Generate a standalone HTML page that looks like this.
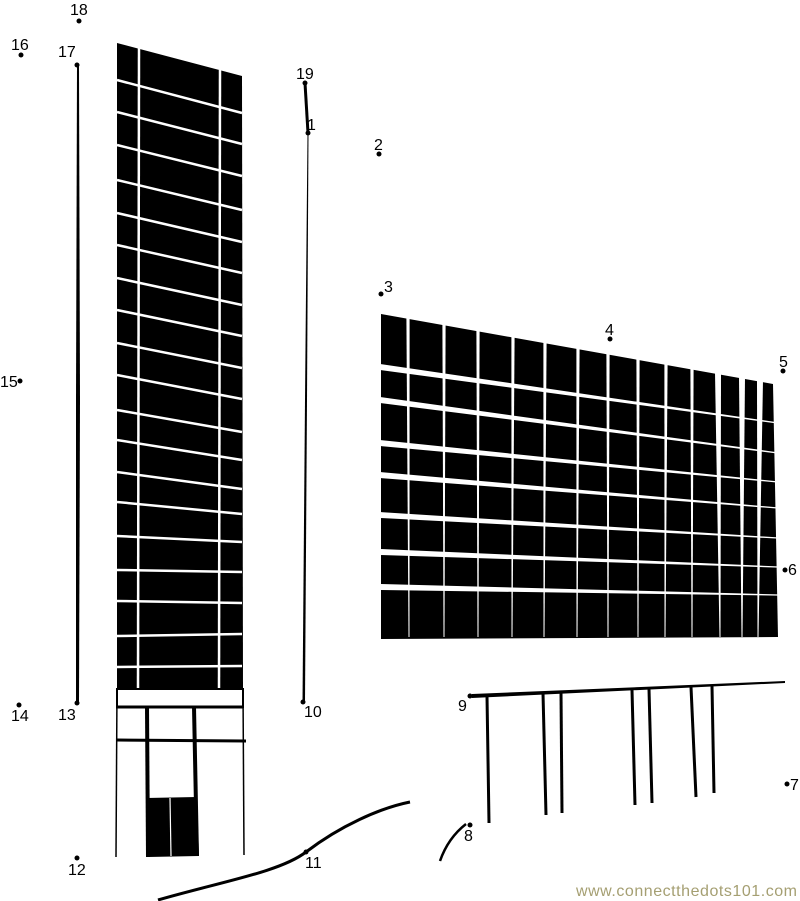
<!DOCTYPE html>
<html><head><meta charset="utf-8"><style>
html,body{margin:0;padding:0;background:#fff}
svg{display:block}
text{font-family:"Liberation Sans",sans-serif;font-size:16px;fill:#000}
</style></head><body>
<svg width="800" height="901" viewBox="0 0 800 901" xmlns="http://www.w3.org/2000/svg">
<polygon points="117,43 242,76 243,689 117,689" fill="#000"/>
<line x1="139" y1="48" x2="138" y2="688" stroke="#fff" stroke-width="2.5"/>
<line x1="220" y1="70" x2="219" y2="688" stroke="#fff" stroke-width="2.5"/>
<g stroke="#fff" stroke-width="2.5" id="tl"></g>
<rect x="117" y="689" width="126" height="18" fill="#fff" stroke="#000" stroke-width="2"/>
<line x1="116" y1="707" x2="243" y2="707" stroke="#000" stroke-width="3"/>
<line x1="117" y1="689" x2="116" y2="857" stroke="#000" stroke-width="1.5"/>
<line x1="243" y1="689" x2="244" y2="855" stroke="#000" stroke-width="1.5"/>
<line x1="117" y1="740" x2="246" y2="741" stroke="#000" stroke-width="3"/>
<line x1="147" y1="707" x2="148" y2="857" stroke="#000" stroke-width="4"/>
<line x1="194" y1="707" x2="197" y2="856" stroke="#000" stroke-width="4"/>
<polygon points="146,798 197,797 199,856 148,857" fill="#000"/>
<line x1="170" y1="798" x2="171" y2="856" stroke="#fff" stroke-width="1.2"/>
<polygon points="77,66 79,66 80,400 79,703 76,703 76,400" fill="#000"/>
<line x1="305" y1="83" x2="308" y2="133" stroke="#000" stroke-width="3"/>
<polygon points="307.5,133 308.5,133 307,400 305,702 302.5,702 305,400" fill="#000"/>
<polygon points="381,314 773,384 778,637 381,639" fill="#000"/>
<g id="rb"></g>
<polygon points="472,694 785,681 785,683 472,698" fill="#000"/>
<g stroke="#000" stroke-width="3">
<line x1="487" y1="696" x2="489" y2="823"/>
<line x1="543" y1="693" x2="546" y2="815"/>
<line x1="561" y1="692" x2="562" y2="813"/>
<line x1="632" y1="690" x2="635" y2="805"/>
<line x1="649" y1="689" x2="652" y2="803"/>
<line x1="691" y1="687" x2="696" y2="797"/>
<line x1="712" y1="686" x2="714" y2="793"/>
</g>
<path d="M440,861 Q448,838 466,824" fill="none" stroke="#000" stroke-width="2.5"/>
<path d="M158,900 C220,882 280,872 306,852 C340,826 380,808 410,802" fill="none" stroke="#000" stroke-width="3"/>
<g fill="#000">
<circle cx="305" cy="83" r="2.5"/><circle cx="308" cy="133" r="2.5"/><circle cx="379" cy="154" r="2.5"/>
<circle cx="381" cy="294" r="2.5"/><circle cx="610" cy="339" r="2.5"/><circle cx="783" cy="371" r="2.5"/>
<circle cx="785" cy="570" r="2.5"/><circle cx="787" cy="784" r="2.5"/><circle cx="470" cy="825" r="2.5"/>
<circle cx="470" cy="696" r="2.5"/><circle cx="303" cy="702" r="2.5"/><circle cx="306" cy="852" r="2.5"/>
<circle cx="77" cy="858" r="2.5"/><circle cx="77" cy="703" r="2.5"/><circle cx="19" cy="705" r="2.5"/>
<circle cx="20" cy="381" r="2.5"/><circle cx="21" cy="55" r="2.5"/><circle cx="77" cy="65" r="2.5"/>
<circle cx="79" cy="21" r="2.5"/>
</g>
<text x="296" y="79">19</text><text x="307" y="130">1</text><text x="374" y="150">2</text>
<text x="384" y="292">3</text><text x="605" y="335">4</text><text x="779" y="367">5</text>
<text x="788" y="575">6</text><text x="790" y="790">7</text><text x="464" y="841">8</text>
<text x="458" y="711">9</text><text x="304" y="717">10</text><text x="305" y="868">11</text>
<text x="68" y="875">12</text><text x="58" y="720">13</text><text x="11" y="721">14</text>
<text x="0" y="387">15</text><text x="11" y="50">16</text><text x="58" y="57">17</text>
<text x="70" y="15">18</text>
<text x="576" y="896" textLength="221" style="fill:#a59f72;font-size:16px">www.connectthedots101.com</text>
<script>
var ns="http://www.w3.org/2000/svg";
var L=[80,112,145,180,213,245,278,310,343,375,410,440,472,502,536,570,601,636,667];
var O=[33,32,31,30,29,28,27,26,25,24,22,20,17,12,6,2,2,-2,-1];
var g=document.getElementById("tl");
L.forEach(function(y,i){var l=document.createElementNS(ns,"line");l.setAttribute("x1",117);l.setAttribute("y1",y);l.setAttribute("x2",242);l.setAttribute("y2",y+O[i]);g.appendChild(l);});
var rb=document.getElementById("rb");
var cols=[[408,409],[444,444],[478,478],[513,512],[545,544],[578,577],[608,608],[638,638],[666,665],[692,692],[718,720],[742,742],[760,758]];
cols.forEach(function(c,i){var w=i>9?3:1.6;var p=document.createElementNS(ns,"polygon");
var ty=314+(c[0]-381)*70/392;
p.setAttribute("points",(c[0]-w)+","+(ty-2)+" "+(c[0]+w)+","+(ty-2)+" "+(c[1]+0.5)+",637 "+(c[1]-0.5)+",637");p.setAttribute("fill","#fff");rb.appendChild(p);});
var rl=[367,400,443,475,515,552,587],rr=[423,453,482,508,538,567,595];
rl.forEach(function(y,i){var p=document.createElementNS(ns,"polygon");var r=rr[i];
p.setAttribute("points","380,"+(y-3)+" 778,"+(r-0.6)+" 778,"+(r+0.6)+" 380,"+(y+3));p.setAttribute("fill","#fff");rb.appendChild(p);});
</script>
</svg>
</body></html>
